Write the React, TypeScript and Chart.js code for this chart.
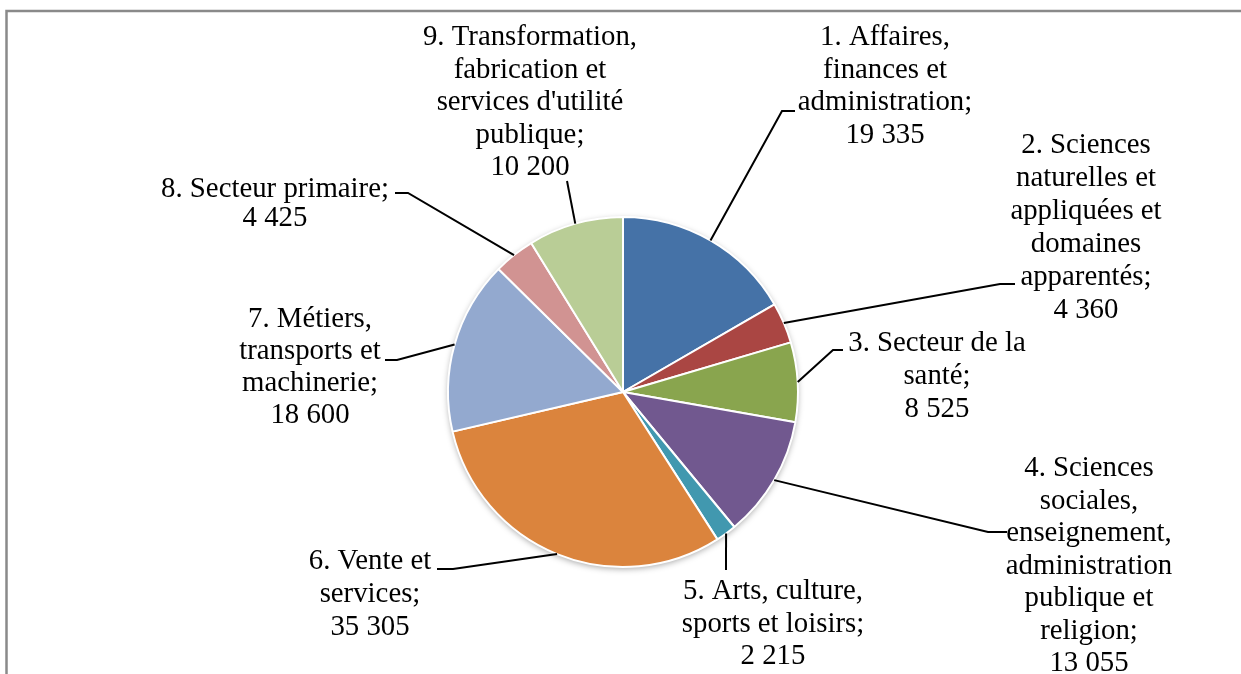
import React, { useEffect, useRef } from "react";
import { Chart, registerables } from "chart.js";

Chart.register(...registerables);

// ---- Data ----
const categories = [
  "1. Affaires,\nfinances et\nadministration",
  "2. Sciences\nnaturelles et\nappliquées et\ndomaines\napparentés",
  "3. Secteur de la\nsanté",
  "4. Sciences\nsociales,\nenseignement,\nadministration\npublique et\nreligion",
  "5. Arts, culture,\nsports et loisirs",
  "6. Vente et\nservices",
  "7. Métiers,\ntransports et\nmachinerie",
  "8. Secteur primaire",
  "9. Transformation,\nfabrication et\nservices d'utilité\npublique",
];

const values = [19335, 4360, 8525, 13055, 2215, 35305, 18600, 4425, 10200];

const sliceColors = [
  "#4572A7",
  "#AA4643",
  "#89A54E",
  "#71588F",
  "#4198AF",
  "#DB843D",
  "#93A9CF",
  "#D19392",
  "#B9CD96",
];

// ---- Label layout (center x, first baseline, line height, leader elbow / end) ----
const labelLayout = [
  { cx: 885, y: 45, lh: 32.5, elbow: [782, 111], end: [795, 111] },
  { cx: 1086, y: 153, lh: 33, elbow: [1000, 284], end: [1015, 284] },
  { cx: 937, y: 351, lh: 33, elbow: [833, 350], end: [843, 350] },
  { cx: 1089, y: 476, lh: 32.5, elbow: [988, 532], end: [1007, 532] },
  { cx: 773, y: 599, lh: 32.5, elbow: [726, 570], end: null },
  { cx: 370, y: 569, lh: 33, elbow: [453, 569], end: [437, 569] },
  { cx: 310, y: 327, lh: 32, elbow: [397, 360], end: [385, 360] },
  { cx: 275, y: 197, lh: 28.5, elbow: [408, 193], end: [395, 193] },
  { cx: 530, y: 45, lh: 32.5, elbow: [567, 181], end: null },
];

const FONT = "28.8px 'Liberation Serif', 'Times New Roman', serif";

function fmt(v: number): string {
  return String(v).replace(/\B(?=(\d{3})+(?!\d))/g, " ");
}

function labelLines(i: number): string[] {
  const lines = categories[i].split("\n");
  lines[lines.length - 1] = lines[lines.length - 1] + ";";
  lines.push(fmt(values[i]));
  return lines;
}

const framePlugin = {
  id: "frame",
  beforeDraw(chart: any) {
    const ctx = chart.ctx;
    ctx.save();
    ctx.fillStyle = "#ffffff";
    ctx.fillRect(0, 0, chart.width, chart.height);
    ctx.strokeStyle = "#8a8a8a";
    ctx.lineWidth = 2.5;
    ctx.beginPath();
    ctx.moveTo(6.5, chart.height + 5);
    ctx.lineTo(6.5, 11);
    ctx.lineTo(chart.width + 5, 11);
    ctx.stroke();
    ctx.restore();
  },
};

const shadowPlugin = {
  id: "pieShadow",
  beforeDatasetsDraw(chart: any) {
    const arc = chart.getDatasetMeta(0).data[0];
    if (!arc) return;
    const { x, y, outerRadius } = arc.getProps(["x", "y", "outerRadius"], true);
    const ctx = chart.ctx;
    ctx.save();
    ctx.shadowColor = "rgba(0,0,0,0.35)";
    ctx.shadowBlur = 6;
    ctx.shadowOffsetX = 0;
    ctx.shadowOffsetY = 2;
    ctx.fillStyle = "#ffffff";
    ctx.beginPath();
    ctx.arc(x, y, outerRadius, 0, Math.PI * 2);
    ctx.fill();
    ctx.restore();
  },
};

const labelPlugin = {
  id: "leaderLabels",
  afterDatasetsDraw(chart: any) {
    const ctx = chart.ctx;
    const meta = chart.getDatasetMeta(0);
    ctx.save();
    meta.data.forEach((arc: any, i: number) => {
      const { x, y, startAngle, endAngle, outerRadius } = arc.getProps(
        ["x", "y", "startAngle", "endAngle", "outerRadius"],
        true
      );
      const mid = (startAngle + endAngle) / 2;
      const px = x + Math.cos(mid) * outerRadius;
      const py = y + Math.sin(mid) * outerRadius;
      const lay = labelLayout[i];
      ctx.strokeStyle = "#000000";
      ctx.lineWidth = 2;
      ctx.beginPath();
      ctx.moveTo(px, py);
      ctx.lineTo(lay.elbow[0], lay.elbow[1]);
      if (lay.end) ctx.lineTo(lay.end[0], lay.end[1]);
      ctx.stroke();

      ctx.fillStyle = "#000000";
      ctx.font = FONT;
      ctx.textAlign = "center";
      ctx.textBaseline = "alphabetic";
      labelLines(i).forEach((line, k) => {
        ctx.fillText(line, lay.cx, lay.y + k * lay.lh);
      });
    });
    ctx.restore();
  },
};

export default function App() {
  const canvasRef = useRef<HTMLCanvasElement | null>(null);

  useEffect(() => {
    document.body.style.margin = "0";
    const canvas = canvasRef.current;
    if (!canvas) return;
    const chart = new Chart(canvas, {
      type: "pie",
      data: {
        labels: categories.map((c) => c.replace(/\n/g, " ")),
        datasets: [
          {
            data: values,
            backgroundColor: sliceColors,
            borderColor: "#ffffff",
            borderWidth: 2,
          },
        ],
      },
      options: {
        responsive: false,
        animation: false,
        devicePixelRatio: 1,
        radius: 175,
        layout: { padding: { left: 200, right: 195, top: 150, bottom: 40 } },
        plugins: {
          legend: { display: false },
          tooltip: { enabled: false },
          title: { display: false },
        },
      } as any,
      plugins: [framePlugin, shadowPlugin, labelPlugin],
    });
    return () => chart.destroy();
  }, []);

  return (
    <div style={{ position: "absolute", left: 0, top: 0, width: 1241, height: 674, background: "#fff" }}>
      <canvas ref={canvasRef} width={1241} height={674} />
    </div>
  );
}
